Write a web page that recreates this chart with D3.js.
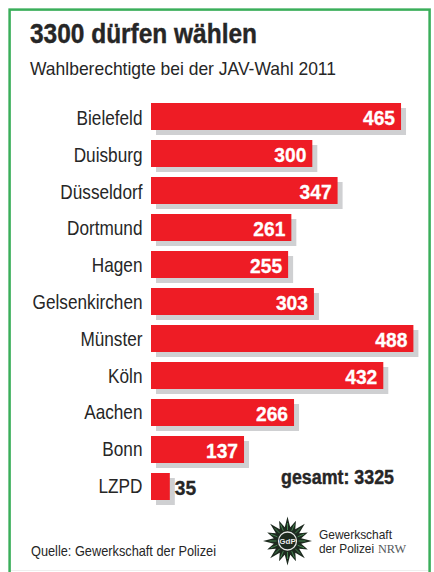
<!DOCTYPE html>
<html>
<head>
<meta charset="utf-8">
<script src="https://cdn.jsdelivr.net/npm/d3@7"></script>
<style>
html,body{margin:0;padding:0;background:#fff;}
svg{display:block;}
text{font-family:"Liberation Sans",sans-serif;fill:#262626;}
</style>
</head>
<body>
<svg id="chart" width="434" height="572"></svg>
<script>
//chart data
var cities = ['Bielefeld','Duisburg','Düsseldorf','Dortmund','Hagen','Gelsenkirchen','Münster','Köln','Aachen','Bonn','LZPD'];
//numbers printed on the bars
var voters = [465,300,347,261,255,303,488,432,266,137,35];
//bar lengths as drawn: same as printed except Bonn, whose bar is drawn as long as 173
var barLengths = [465,300,347,261,255,303,488,432,266,173,35];

var svg = d3.select('#chart');

//frame
svg.append('rect')
   .attr('x',9.6).attr('y',9.6)
   .attr('width',420).attr('height',570)
   .style('fill','#ffffff')
   .style('stroke','#3aae5a')
   .style('stroke-width',2.5);
svg.append('line')
   .attr('x1',11).attr('x2',428).attr('y1',570.5).attr('y2',570.5)
   .style('stroke','#eeeeee');

svg.append('text').text('3300 dürfen wählen')
   .attr('x',30).attr('y',43)
   .style('font-size','27px').style('font-weight','bold')
   .style('stroke','#262626').style('stroke-width',0.4)
   .attr('textLength',227).attr('lengthAdjust','spacingAndGlyphs');
svg.append('text').text('Wahlberechtigte bei der JAV-Wahl 2011')
   .attr('x',30).attr('y',75)
   .style('font-size','19px')
   .attr('textLength',306).attr('lengthAdjust','spacingAndGlyphs');

//scales
var x = d3.scaleLinear().domain([0,488]).range([151,413.4]);
var y = d3.scaleBand().domain(cities).range([103,500]).paddingInner(10/37).paddingOuter(0);
//labels run on a slightly tighter step than the bars
var labelY = d3.scalePoint().domain(cities).range([125,493]);

var row = svg.selectAll('g.row')
    .data(cities.map((c,i)=>({city:c,value:voters[i],bar:barLengths[i]})))
    .enter()
    .append('g')
    .attr('class','row');

//shadow first, red bar on top
row.append('rect')
   .attr('x',x(0)+5)
   .attr('y',d=>y(d.city)+5)
   .attr('width',d=>x(d.bar)-x(0))
   .attr('height',y.bandwidth())
   .style('fill','#cfd0d2');
row.append('rect')
   .attr('x',x(0))
   .attr('y',d=>y(d.city))
   .attr('width',d=>x(d.bar)-x(0))
   .attr('height',y.bandwidth())
   .style('fill','#ee1c25');

row.append('text')
   .text(d=>d.city)
   .attr('transform',d=>'translate(142.5,'+labelY(d.city)+') scale(.86,1)')
   .style('text-anchor','end')
   .style('font-size','20px');

row.append('text')
   .text(d=>d.value)
   .attr('transform',d=>'translate('+(d.bar<100?x(d.bar)+5:x(d.bar)-6)+','+(y(d.city)+22)+') scale(.96,1)')
   .style('text-anchor',d=>d.bar<100?'start':'end')
   .style('font-size','20px')
   .style('font-weight','bold')
   .style('stroke',d=>d.bar<100?'#262626':'#ffffff')
   .style('stroke-width',0.3)
   .style('fill',d=>d.bar<100?'#262626':'#ffffff');

svg.append('text').text('gesamt: 3325')
   .attr('x',281).attr('y',484)
   .style('font-size','20px').style('font-weight','bold')
   .style('stroke','#262626').style('stroke-width',0.4)
   .attr('textLength',113).attr('lengthAdjust','spacingAndGlyphs');

svg.append('text').text('Quelle: Gewerkschaft der Polizei')
   .attr('x',31).attr('y',556)
   .style('font-size','15px')
   .attr('textLength',185).attr('lengthAdjust','spacingAndGlyphs');

//logo
var logo = svg.append('g').attr('transform','translate(287.5,541)');
var starPts = d3.range(32).map(i=>{
    var a = i/32*2*Math.PI;
    var r = i%4===0?24.5:i%4===2?22:14;
    return [a,r];
});
logo.append('path')
    .attr('d',d3.lineRadial().curve(d3.curveLinearClosed)(starPts))
    .style('fill','#1d2a1f');
logo.append('g').selectAll('line')
    .data(d3.range(16))
    .enter()
    .append('line')
    .attr('x1',i=>Math.sin(i/16*2*Math.PI)*11)
    .attr('y1',i=>-Math.cos(i/16*2*Math.PI)*11)
    .attr('x2',i=>Math.sin(i/16*2*Math.PI)*18)
    .attr('y2',i=>-Math.cos(i/16*2*Math.PI)*18)
    .style('stroke','#4d9a5a')
    .style('stroke-width',0.8);
logo.append('circle').attr('r',9).style('fill','#1d2a1f').style('stroke','#e8e8e8').style('stroke-width',1.3);
logo.append('text').text('GdP')
    .attr('y',3).style('text-anchor','middle')
    .style('font-size','8px').style('font-weight','bold').style('fill','#e8e8e8');

svg.append('text').text('Gewerkschaft')
   .attr('x',319).attr('y',539)
   .style('font-size','13px')
   .attr('textLength',73).attr('lengthAdjust','spacingAndGlyphs');
svg.append('text').text('der Polizei')
   .attr('x',319).attr('y',552.5)
   .style('font-size','13px')
   .attr('textLength',55).attr('lengthAdjust','spacingAndGlyphs');
svg.append('text').text('NRW')
   .attr('x',378).attr('y',552.5)
   .style('font-size','13px')
   .style('font-family','"Liberation Serif",serif').style('fill','#55595c')
   .attr('textLength',28).attr('lengthAdjust','spacingAndGlyphs');
</script>
</body>
</html>
